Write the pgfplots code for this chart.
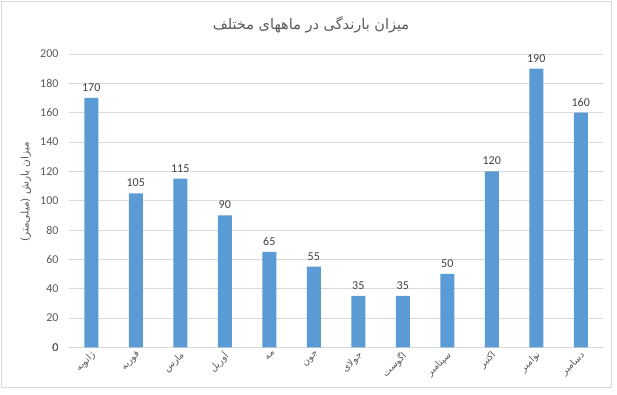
\documentclass[border=0pt]{standalone}
\usepackage{pgfplots}
\pgfplotsset{compat=1.18}
\usepackage{graphicx}
\usepackage{fontspec}
\setmainfont{Carlito}
\newfontfamily\arabicfont[Script=Arabic]{DejaVu Sans}
\TeXXeTstate=1
\definecolor{barblue}{HTML}{5B9BD5}
\definecolor{txtgray}{HTML}{595959}
\definecolor{valgray}{HTML}{404040}
\definecolor{gridgray}{HTML}{D9D9D9}
\newcommand{\fa}[1]{{\arabicfont\beginR #1\endR}}
\newcommand{\rl}[1]{\rotatebox{45}{#1}}
\begin{document}
\begin{tikzpicture}[x=1pt,y=1pt]
\useasboundingbox (0,0) rectangle (617,394);
\draw[gridgray, line width=0.9pt] (1.5,7) rectangle (611,392.5);
\node[text=txtgray, font=\fontsize{14.5}{17}\selectfont] at (311,369) {\fa{میزان بارندگی در ماههای مختلف}};
\node[text=txtgray, rotate=90, font=\fontsize{10.5}{12}\selectfont] at (26,202) {\fa{میزان بارش (میلی‌متر)}};
\begin{axis}[
  at={(69pt,46.7pt)}, anchor=south west,
  scale only axis, width=534pt, height=293.3pt,
  ymin=0, ymax=200, ytick distance=20,
  xmin=-0.5, xmax=11.5,
  xtick={0,...,11},
  xticklabels={\rl{ژانویه},\rl{فوریه},\rl{مارس},\rl{آوریل},\rl{مه},\rl{جون},\rl{جولای},\rl{اگوست},\rl{سپتامبر},\rl{اکتبر},\rl{نوامبر},\rl{دسامبر}},
  xticklabel style={anchor=north east, inner sep=0pt, font=\arabicfont\fontsize{9.5}{11}\selectfont, text=txtgray, xshift=6pt, yshift=-3pt},
  yticklabel style={font=\fontsize{12}{14}\selectfont, text=txtgray, xshift=-7pt},
  /pgf/number format/assume math mode=true,
  major tick length=0pt,
  ymajorgrids, grid style={gridgray, line width=0.8pt},
  axis line style={draw=none},
  extra y ticks={0}, extra y tick style={grid style={gridgray, line width=0.9pt}},
  ybar, bar width=14pt,
  nodes near coords,
  every node near coord/.append style={font=\fontsize{12}{14}\selectfont, text=valgray, yshift=3pt},
  clip=false,
]
\addplot[fill=barblue, draw=none] coordinates {
(0,170) (1,105) (2,115) (3,90) (4,65) (5,55) (6,35) (7,35) (8,50) (9,120) (10,190) (11,160)};
\end{axis}
\end{tikzpicture}
\end{document}
